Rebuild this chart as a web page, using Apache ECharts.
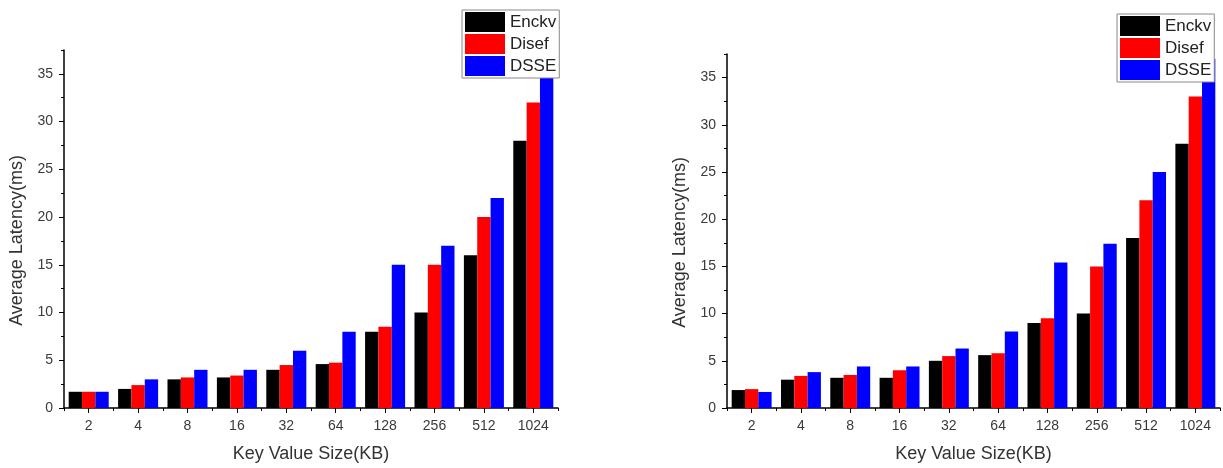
<!DOCTYPE html>
<html>
<head>
<meta charset="utf-8">
<script src="https://cdn.jsdelivr.net/npm/echarts@6/dist/echarts.min.js"></script>
<style>
html,body{margin:0;padding:0;background:#fff;}
#chart{width:1223px;height:468px;}
</style>
</head>
<body>
<div id="chart"></div>
<script>
const categories = ['2','4','8','16','32','64','128','256','512','1024'];
const seriesNames = ['Enckv','Disef','DSSE'];
const seriesColors = ['#000000','#ff0000','#0000ff'];

const leftEnckv = [1.7, 2.0, 3.0, 3.2, 4.0, 4.6, 8.0, 10.0, 16.0, 28.0];
const leftDisef = [1.7, 2.4, 3.2, 3.4, 4.5, 4.75, 8.5, 15.0, 20.0, 32.0];
const leftDSSE  = [1.7, 3.0, 4.0, 4.0, 6.0, 8.0, 15.0, 17.0, 22.0, 37.0];

const rightEnckv = [1.9, 3.0, 3.2, 3.2, 5.0, 5.6, 9.0, 10.0, 18.0, 28.0];
const rightDisef = [2.0, 3.4, 3.5, 4.0, 5.5, 5.8, 9.5, 15.0, 22.0, 33.0];
const rightDSSE  = [1.7, 3.8, 4.4, 4.4, 6.3, 8.1, 15.4, 17.4, 25.0, 37.0];

const yMajorTicks = [0, 5, 10, 15, 20, 25, 30, 35];
const yMinorTicks = [2.5, 7.5, 12.5, 17.5, 22.5, 27.5, 32.5, 37.5];
const yMax = 37.5;

const xName = 'Key Value Size(KB)';
const yName = 'Average Latency(ms)';

const FONT = 'Liberation Sans, Arial, sans-serif';
const chart = echarts.init(document.getElementById('chart'), null, {renderer:'canvas'});

const grids = [
  {left: 64, right: 665, top: 50, bottom: 59},
  {left: 727, right: 3, top: 54, bottom: 60}
];
const panelData = [
  [leftEnckv, leftDisef, leftDSSE],
  [rightEnckv, rightDisef, rightDSSE]
];

const xAxes = [], yAxes = [], series = [];
grids.forEach((g, gi) => {
  xAxes.push({
    type: 'category', gridIndex: gi, data: categories, position: 'bottom',
    axisLine: {show: true, onZero: false, lineStyle: {color: '#000', width: 1.5}},
    axisTick: {show: true, alignWithLabel: true, length: 5, lineStyle: {color: '#000', width: 1}},
    axisLabel: {color: '#3a3a3a', fontSize: 14, fontFamily: FONT, margin: 11},
    splitLine: {show: false},
    name: xName, nameLocation: 'middle', nameGap: 37,
    nameTextStyle: {color: '#333', fontSize: 18, fontFamily: FONT}
  });
  xAxes.push({
    type: 'category', gridIndex: gi, data: categories, position: 'bottom',
    axisLine: {show: false},
    axisTick: {show: true, alignWithLabel: false, length: 3, lineStyle: {color: '#000', width: 1}},
    axisLabel: {show: false},
    splitLine: {show: false}
  });
  yAxes.push({
    type: 'value', gridIndex: gi, min: 0, max: yMax, interval: 5, position: 'left',
    axisLine: {show: true, lineStyle: {color: '#000', width: 1.5}},
    axisTick: {show: true, length: 5, customValues: yMajorTicks, lineStyle: {color: '#000', width: 1}},
    axisLabel: {color: '#3a3a3a', fontSize: 14, fontFamily: FONT, margin: 11, customValues: yMajorTicks},
    splitLine: {show: false},
    name: yName, nameLocation: 'middle', nameGap: 38, nameRotate: 90,
    nameTextStyle: {color: '#333', fontSize: 18, fontFamily: FONT, padding: [0, 23, 0, 0]}
  });
  yAxes.push({
    type: 'value', gridIndex: gi, min: 0, max: yMax, interval: 2.5, position: 'left', offset: 0,
    axisLine: {show: false},
    axisTick: {show: true, length: 3, customValues: yMinorTicks, lineStyle: {color: '#000', width: 1}},
    axisLabel: {show: false},
    splitLine: {show: false}
  });
  panelData[gi].forEach((arr, si) => {
    series.push({
      type: 'bar', name: seriesNames[si], xAxisIndex: gi * 2, yAxisIndex: gi * 2,
      data: arr, itemStyle: {color: seriesColors[si]},
      barGap: '0%', barCategoryGap: '19%', animation: false
    });
  });
});

const legendBase = {
  orient: 'vertical', data: seriesNames, icon: 'rect',
  itemWidth: 40, itemHeight: 20, itemGap: 2, padding: [2, 3, 2, 3],
  backgroundColor: '#fff', borderColor: '#888', borderWidth: 1,
  textStyle: {color: '#222', fontSize: 17, fontFamily: FONT, padding: [0, 0, 0, 0]},
  selectedMode: false, z: 10
};

chart.setOption({
  animation: false,
  backgroundColor: '#fff',
  grid: grids,
  xAxis: xAxes,
  yAxis: yAxes,
  legend: [
    Object.assign({}, legendBase, {left: 462, top: 10}),
    Object.assign({}, legendBase, {left: 1117, top: 14})
  ],
  series: series
});
</script>
</body>
</html>
